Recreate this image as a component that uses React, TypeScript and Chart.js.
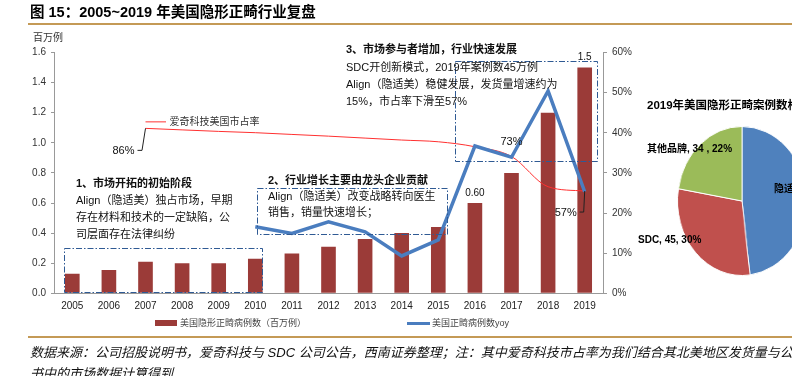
import React, { useEffect, useRef } from "react";
import { Chart, registerables } from "chart.js";

Chart.register(...registerables);

const FONT = "'Liberation Sans', Arial, 'Noto Sans CJK SC', sans-serif";

// ---------- data ----------
const years = ["2005", "2006", "2007", "2008", "2009", "2010", "2011", "2012", "2013", "2014", "2015", "2016", "2017", "2018", "2019"];
const caseVolume = [0.13, 0.155, 0.21, 0.2, 0.2, 0.23, 0.265, 0.31, 0.36, 0.4, 0.44, 0.6, 0.8, 1.2, 1.5];
const yoyGrowth = [null, null, null, null, null, 16.6, 14.9, 17.8, 15.3, 9.3, 13.3, 36.7, 33.9, 50.4, 25.3];
const alignShare = [null, null, 86, 85.3, 84.6, 84, 83.2, 82.4, 81.5, 80.6, 79.8, 77.5, 73, 59, 57];
const barLabelIdx = [11, 14];
const barLabelText = ["0.60", "1.5"];
const shareLabelIdx = [2, 12, 14];

const pieNames = ["隐适美", "SDC", "其他品牌"];
const pieValues = [73, 45, 34];
const piePct = [48, 30, 22];

const seriesBar = "美国隐形正畸病例数（百万例）";
const seriesYoy = "美国正畸病例数yoy";
const seriesShare = "爱奇科技美国市占率";

// dash-dot boxes [x1, y1, x2, y2]
const BOXES = [
  [64, 248, 262, 292],
  [257, 188, 447, 234],
  [455, 61, 597, 161],
];

const annotPlugin = {
  id: "annot",
  afterDatasetsDraw(chart: any) {
    const ctx = chart.ctx as CanvasRenderingContext2D;
    ctx.save();
    // boxes
    ctx.strokeStyle = "#2F5A94";
    ctx.lineWidth = 1;
    ctx.setLineDash([6, 2, 1.5, 2]);
    for (const b of BOXES) {
      ctx.strokeRect(b[0] + 0.5, b[1] + 0.5, b[2] - b[0], b[3] - b[1]);
    }
    ctx.setLineDash([]);

    // bar value labels
    const barMeta = chart.getDatasetMeta(0);
    ctx.fillStyle = "#111";
    ctx.font = `10px ${FONT}`;
    ctx.textAlign = "center";
    ctx.textBaseline = "middle";
    barLabelIdx.forEach((i, k) => {
      const el = barMeta.data[i];
      ctx.fillText(barLabelText[k], el.x, el.y - 10);
    });

    // share labels
    const sm = chart.getDatasetMeta(1);
    ctx.font = `11px ${FONT}`;
    ctx.strokeStyle = "#222";
    ctx.lineWidth = 1;
    // first point (2007)
    const p0 = sm.data[shareLabelIdx[0]];
    ctx.beginPath();
    ctx.moveTo(p0.x, p0.y);
    ctx.lineTo(p0.x - 3.5, p0.y + 22);
    ctx.lineTo(p0.x - 8, p0.y + 22);
    ctx.stroke();
    ctx.textAlign = "right";
    ctx.fillText(alignShare[shareLabelIdx[0]] + "%", p0.x - 11, p0.y + 22.5);
    // series name
    ctx.strokeStyle = "#FF3333";
    ctx.beginPath();
    ctx.moveTo(p0.x, p0.y - 6.5);
    ctx.lineTo(p0.x + 20.5, p0.y - 6.5);
    ctx.stroke();
    ctx.fillStyle = "#333";
    ctx.font = `10px ${FONT}`;
    ctx.textAlign = "left";
    ctx.fillText(seriesShare, p0.x + 24, p0.y - 6.5);
    // 2017
    ctx.fillStyle = "#111";
    ctx.font = `11px ${FONT}`;
    const p1 = sm.data[shareLabelIdx[1]];
    ctx.textAlign = "center";
    ctx.fillText(alignShare[shareLabelIdx[1]] + "%", p1.x, p1.y - 15);
    // 2019
    const p2 = sm.data[shareLabelIdx[2]];
    ctx.strokeStyle = "#222";
    ctx.beginPath();
    ctx.moveTo(p2.x, p2.y);
    ctx.lineTo(p2.x - 1, p2.y + 21);
    ctx.lineTo(p2.x - 5, p2.y + 21);
    ctx.stroke();
    ctx.textAlign = "right";
    ctx.fillText(alignShare[shareLabelIdx[2]] + "%", p2.x - 8, p2.y + 21.5);
    ctx.restore();
  },
};

function MainChart() {
  const ref = useRef<HTMLCanvasElement>(null);
  useEffect(() => {
    const chart = new Chart(ref.current!, {
      type: "bar",
      data: {
        labels: years,
        datasets: [
          {
            type: "bar",
            label: seriesBar,
            data: caseVolume,
            backgroundColor: "#9B3B38",
            barPercentage: 0.4,
            categoryPercentage: 1,
            yAxisID: "y",
            order: 3,
          } as any,
          {
            type: "line",
            label: seriesShare,
            data: alignShare,
            borderColor: "#FF3030",
            borderWidth: 1,
            pointRadius: 0,
            cubicInterpolationMode: "monotone",
            yAxisID: "y2",
            order: 2,
          },
          {
            type: "line",
            label: seriesYoy,
            data: yoyGrowth,
            borderColor: "#4A7DBF",
            borderWidth: 3.5,
            pointRadius: 0,
            tension: 0,
            yAxisID: "y1",
            order: 1,
          },
        ],
      },
      options: {
        responsive: false,
        animation: false,
        layout: { padding: { left: 0, right: 149, top: 52.5, bottom: 62.7 } },
        plugins: { legend: { display: false }, tooltip: { enabled: false } },
        scales: {
          x: {
            offset: true,
            grid: { display: true, drawOnChartArea: false, drawTicks: false },
            border: { display: true, color: "#999" },
            ticks: { color: "#222", font: { size: 10, family: FONT }, padding: 7, maxRotation: 0, autoSkip: false },
            afterFit: (s: any) => { s.height = 20; },
          },
          y: {
            position: "left",
            min: 0,
            max: 1.6,
            ticks: { stepSize: 0.2, color: "#333", font: { size: 10, family: FONT }, padding: 5, callback: (v: any) => Number(v).toFixed(1) },
            grid: { display: true, drawOnChartArea: false, drawTicks: true, tickLength: 3, color: "#999" },
            border: { display: true, color: "#999" },
            afterFit: (s: any) => { s.width = 54; },
          },
          y1: {
            position: "right",
            min: 0,
            max: 60,
            ticks: { stepSize: 10, color: "#333", font: { size: 10, family: FONT }, padding: 5, callback: (v: any) => v + "%" },
            grid: { display: true, drawOnChartArea: false, drawTicks: true, tickLength: 4, color: "#999" },
            border: { display: true, color: "#999" },
            afterFit: (s: any) => { s.width = 40; },
          },
          y2: {
            display: false,
            min: 9.7,
            max: 121.1,
          },
        },
      },
      plugins: [annotPlugin],
    });
    return () => chart.destroy();
  }, []);
  return <canvas ref={ref} width={792} height={376} style={{ position: "absolute", left: 0, top: 0 }} />;
}

function PieChart() {
  const ref = useRef<HTMLCanvasElement>(null);
  useEffect(() => {
    const chart = new Chart(ref.current!, {
      type: "pie",
      data: {
        labels: pieNames,
        datasets: [
          {
            data: pieValues,
            backgroundColor: ["#4F81BD", "#C0504D", "#9BBB59"],
            borderColor: "#ffffff",
            borderWidth: 1,
          },
        ],
      },
      options: {
        responsive: false,
        animation: false,
        layout: { padding: 0 },
        plugins: { legend: { display: false }, tooltip: { enabled: false } },
      },
    });
    return () => chart.destroy();
  }, []);
  return (
    <canvas
      ref={ref}
      width={150}
      height={150}
      style={{ position: "absolute", left: 667, top: 126, transform: "scaleX(0.865)", transformOrigin: "75px 75px" }}
    />
  );
}

function T(props: { x: number; y: number; size?: number; bold?: boolean; color?: string; italic?: boolean; children: any }) {
  const size = props.size ?? 11;
  const lh = size * 1.4;
  return (
    <div
      style={{
        position: "absolute",
        left: props.x,
        top: props.y - lh / 2,
        lineHeight: lh + "px",
        fontSize: size,
        fontWeight: props.bold ? "bold" : "normal",
        fontStyle: props.italic ? "italic" : "normal",
        color: props.color ?? "#111",
        whiteSpace: "nowrap",
        fontFamily: FONT,
      }}
    >
      {props.children}
    </div>
  );
}

export default function App() {
  return (
    <div style={{ position: "fixed", left: 0, top: 0, width: 792, height: 376, overflow: "hidden", background: "#fff" }}>
      <MainChart />
      <PieChart />
      {/* title */}
      <T x={30} y={12} size={14.5} bold color="#000">图 15：2005~2019 年美国隐形正畸行业复盘</T>
      <div style={{ position: "absolute", left: 28, top: 23, width: 764, height: 2, background: "#C49A56" }} />
      <T x={33} y={38} size={10} color="#333">百万例</T>

      {/* annotation 1 */}
      <T x={76} y={184} bold>1、市场开拓的初始阶段</T>
      <T x={76} y={201}>Align（隐适美）独占市场，早期</T>
      <T x={76} y={218}>存在材料和技术的一定缺陷，公</T>
      <T x={76} y={235}>司层面存在法律纠纷</T>

      {/* annotation 2 */}
      <T x={268} y={181} bold>2、行业增长主要由龙头企业贡献</T>
      <T x={268} y={197}>Align（隐适美）改变战略转向医生</T>
      <T x={268} y={213}>销售，销量快速增长；</T>

      {/* annotation 3 */}
      <T x={346} y={50} bold>3、市场参与者增加，行业快速发展</T>
      <T x={346} y={68}>SDC开创新模式，2019年案例数45万例</T>
      <T x={346} y={85}>Align（隐适美）稳健发展，发货量增速约为</T>
      <T x={346} y={102}>15%，市占率下滑至57%</T>

      {/* legend */}
      <div style={{ position: "absolute", left: 155, top: 320, width: 22, height: 6, background: "#9B3B38" }} />
      <T x={180} y={323} size={9} color="#444">{seriesBar}</T>
      <div style={{ position: "absolute", left: 407, top: 322, width: 23, height: 3, background: "#4A7DBF" }} />
      <T x={432} y={323} size={9} color="#444">{seriesYoy}</T>

      {/* pie texts */}
      <T x={647} y={105} size={11.5} bold color="#000">2019年美国隐形正畸案例数格局</T>
      <T x={647} y={149} size={10} bold color="#000">{`${pieNames[2]}, ${pieValues[2]} , ${piePct[2]}%`}</T>
      <T x={638} y={240} size={10} bold color="#000">{`${pieNames[1]}, ${pieValues[1]}, ${piePct[1]}%`}</T>
      <T x={774} y={189} size={10} bold color="#000">{`${pieNames[0]}, ${pieValues[0]}, ${piePct[0]}%`}</T>

      {/* footer */}
      <div style={{ position: "absolute", left: 28, top: 336, width: 764, height: 2, background: "#C49A56" }} />
      <T x={30} y={353} size={13} italic color="#111">数据来源：公司招股说明书，爱奇科技与 SDC 公司公告，西南证券整理；注：其中爱奇科技市占率为我们结合其北美地区发货量与公司招股说明</T>
      <T x={30} y={374} size={13} italic color="#111">书中的市场数据计算得到</T>
    </div>
  );
}
